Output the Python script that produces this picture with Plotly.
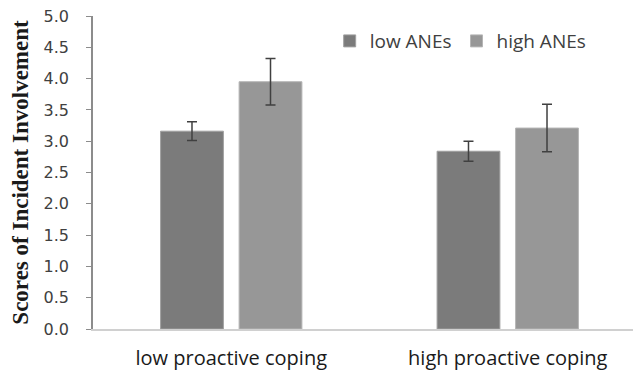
import plotly.graph_objects as go

categories = ["low proactive coping", "high proactive coping"]
low_anes = [3.16, 2.84]
low_anes_err = [0.15, 0.16]
high_anes = [3.95, 3.21]
high_anes_err = [0.37, 0.38]
y_ticks = [0, 0.5, 1.0, 1.5, 2.0, 2.5, 3.0, 3.5, 4.0, 4.5, 5.0]

fig = go.Figure()
fig.add_trace(go.Bar(
    name="low ANEs", x=categories, y=low_anes,
    marker=dict(color="#7b7b7b", line=dict(color="#a0a0a0", width=1)),
    error_y=dict(type="data", array=low_anes_err, color="#404040", thickness=1.5, width=5),
))
fig.add_trace(go.Bar(
    name="high ANEs", x=categories, y=high_anes,
    marker=dict(color="#979797", line=dict(color="#b5b5b5", width=1)),
    error_y=dict(type="data", array=high_anes_err, color="#404040", thickness=1.5, width=5),
))

fig.update_layout(
    width=638, height=367,
    margin=dict(l=85, r=0, t=8, b=46, autoexpand=False),
    paper_bgcolor="white", plot_bgcolor="white",
    barmode="group", bargap=0.432, bargroupgap=0.2,
    showlegend=True,
    legend=dict(orientation="h", x=0.428, y=0.92, xanchor="left", yanchor="middle",
                font=dict(family="Open Sans", size=19, color="#404040"),
                itemwidth=30, tracegroupgap=0, bgcolor="rgba(0,0,0,0)"),
    font=dict(family="DejaVu Sans", color="#404040"),
)
fig.update_yaxes(
    range=[0, 5], tickvals=y_ticks, tickformat=".1f", automargin=False,
    showgrid=False, zeroline=False, ticklabeloverflow="allow",
    showline=True, linecolor="#8c8c8c", linewidth=1.5,
    ticks="outside", ticklen=5, tickcolor="#8c8c8c", ticklabelstandoff=14,
    tickfont=dict(family="DejaVu Sans", size=16, color="#404040"),
    title=dict(text="<b>Scores of Incident Involvement</b>",
               font=dict(family="Liberation Serif", size=23, color="#1a1a1a"),
               standoff=12),
)
fig.update_xaxes(
    showgrid=False, zeroline=False, automargin=False,
    showline=True, linecolor="#d0d0d0", linewidth=1.5,
    ticks="", ticklabelstandoff=10,
    tickfont=dict(family="Open Sans", size=20, color="#1a1a1a"),
)
fig.write_html("out.html")
